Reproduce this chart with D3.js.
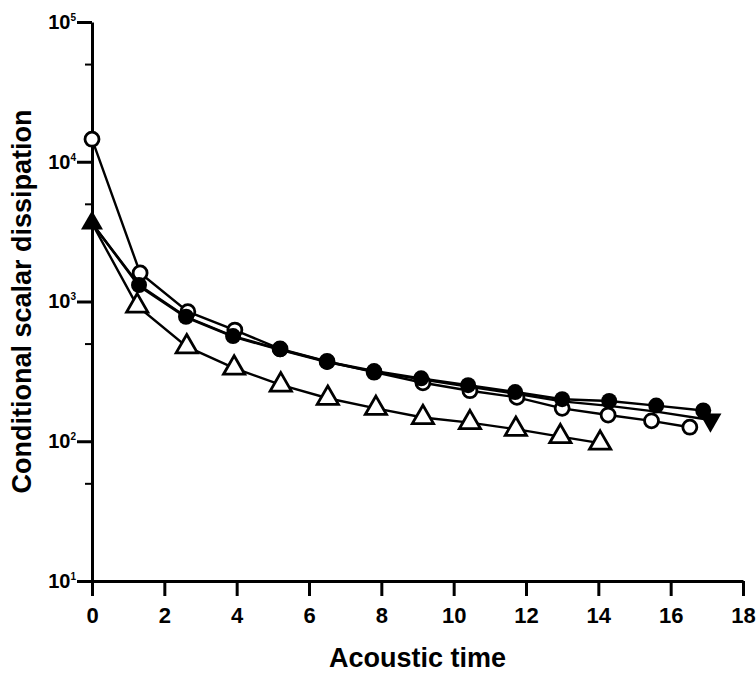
<!DOCTYPE html>
<html>
<head>
<meta charset="utf-8">
<script src="https://cdn.jsdelivr.net/npm/d3@7"></script>
<style>
  body { margin: 0; background: #fff; }
  svg { font-family: "Liberation Sans", Arial, sans-serif; font-weight: bold; }
</style>
</head>
<body>
<script>
// Values (log axis)
const timeOpenCircle = [0, 1.33, 2.65, 3.95, 5.2, 6.5, 7.8, 9.15, 10.45, 11.75, 13.0, 14.27, 15.47, 16.53];
const openCircle = [14500, 1600, 845, 625, 458, 372, 312, 262, 230, 206, 172, 154, 140, 126];

const timeFilledCircle = [0, 1.3, 2.6, 3.9, 5.2, 6.5, 7.8, 9.1, 10.4, 11.7, 13.0, 14.3, 15.6, 16.9];
const filledCircle = [3630, 1313, 778, 566, 455, 371, 318, 282, 252, 225, 200, 194, 180, 166];

const timeOpenTriangle = [0, 1.25, 2.62, 3.93, 5.22, 6.52, 7.85, 9.15, 10.45, 11.72, 12.95, 14.05];
const openTriangle = [3630, 930, 475, 334, 253, 203, 172, 148, 136, 122, 108, 97];

const timeFilledTriangle = [0, 1.3, 2.6, 3.9, 5.2, 6.5, 7.8, 9.1, 10.4, 11.7, 13.0, 14.3, 15.6, 17.1];
const filledTriangle = [3630, 1290, 770, 560, 450, 368, 315, 277, 246, 219, 193, 179, 163, 142];

const xTicks = [0, 2, 4, 6, 8, 10, 12, 14, 16, 18];
const yTicks = [10, 100, 1000, 10000, 100000];
const yMinorTicks = [50, 500, 5000, 50000];

const width = 756;
const height = 675;
const marginTop = 22;
const marginRight = 13;
const marginBottom = 94;
const marginLeft = 92;

const x = d3.scaleLinear().domain([0, 18]).range([marginLeft, width - marginRight]);
const y = d3.scaleLog().domain([10, 100000]).range([height - marginBottom, marginTop]);

const svg = d3.select("body").append("svg")
    .attr("width", width)
    .attr("height", height)
    .attr("viewBox", [0, 0, width, height]);

// axes
svg.append("g")
    .attr("transform", `translate(0,${height - marginBottom})`)
    .call(d3.axisBottom(x).tickValues(xTicks).tickSize(15).tickSizeOuter(0).tickPadding(11))
    .call(g => g.select(".domain").attr("stroke-width", 3))
    .call(g => g.selectAll(".tick line").attr("stroke-width", 3))
    .call(g => g.selectAll(".tick text").style("font-size", "22px").attr("fill", "#000"));

svg.append("g")
    .attr("transform", `translate(${marginLeft},0)`)
    .call(d3.axisLeft(y).tickValues(yMinorTicks).tickSize(7).tickSizeOuter(0).tickFormat(""))
    .call(g => g.select(".domain").remove())
    .call(g => g.selectAll(".tick line").attr("stroke-width", 2));

svg.append("g")
    .attr("transform", `translate(${marginLeft},0)`)
    .call(d3.axisLeft(y).tickValues(yTicks).tickSize(15).tickSizeOuter(0).tickPadding(1).tickFormat(""))
    .call(g => g.select(".domain").attr("stroke-width", 3))
    .call(g => g.selectAll(".tick line").attr("stroke-width", 3))
    .call(g => g.selectAll(".tick text")
        .attr("fill", "#000")
        .style("font-size", "20px")
        .call(t => t.append("tspan").text("10"))
        .call(t => t.append("tspan")
            .attr("dy", "-8")
            .style("font-size", "10px")
            .text(d => Math.round(Math.log10(d)))));

// axis titles
svg.append("text")
    .attr("x", (marginLeft + width - marginRight) / 2)
    .attr("y", 667)
    .attr("text-anchor", "middle")
    .style("font-size", "27px")
    .text("Acoustic time");

svg.append("text")
    .attr("transform", `translate(31,${(y(100000) + y(10)) / 2}) rotate(-90)`)
    .attr("text-anchor", "middle")
    .style("font-size", "27px")
    .text("Conditional scalar dissipation");

// lines
const series = [
    { t: timeOpenCircle, v: openCircle },
    { t: timeFilledCircle, v: filledCircle },
    { t: timeOpenTriangle, v: openTriangle },
    { t: timeFilledTriangle, v: filledTriangle }
];

const line = d3.line().x(d => x(d[0])).y(d => y(d[1]));

svg.append("g")
    .attr("fill", "none")
    .attr("stroke", "#000")
    .attr("stroke-width", 2.4)
    .selectAll("path")
    .data(series)
    .join("path")
    .attr("d", s => line(d3.zip(s.t, s.v)));

// markers
svg.append("g")
    .selectAll("circle")
    .data(d3.zip(timeOpenCircle, openCircle))
    .join("circle")
    .attr("cx", d => x(d[0]))
    .attr("cy", d => y(d[1]))
    .attr("r", 7)
    .attr("fill", "#fff")
    .attr("stroke", "#000")
    .attr("stroke-width", 2.8);

svg.append("g")
    .selectAll("circle")
    .data(d3.zip(timeFilledCircle, filledCircle).slice(1))
    .join("circle")
    .attr("cx", d => x(d[0]))
    .attr("cy", d => y(d[1]))
    .attr("r", 8)
    .attr("fill", "#000");

const tri = d3.symbol().type(d3.symbolTriangle);

svg.append("g")
    .selectAll("path")
    .data(d3.zip(timeOpenTriangle, openTriangle).slice(1))
    .join("path")
    .attr("transform", d => `translate(${x(d[0])},${y(d[1])})`)
    .attr("d", tri.size(195)())
    .attr("fill", "#fff")
    .attr("stroke", "#000")
    .attr("stroke-width", 2.8);

// filled triangle series: up marker at start, down marker at end
const ft = d3.zip(timeFilledTriangle, filledTriangle);
svg.append("g")
    .selectAll("path")
    .data([ft[0], ft[ft.length - 1]])
    .join("path")
    .attr("transform", (d, i) => `translate(${x(d[0])},${y(d[1])}) rotate(${i ? 180 : 0})`)
    .attr("d", tri.size(210)())
    .attr("fill", "#000");
</script>
</body>
</html>
